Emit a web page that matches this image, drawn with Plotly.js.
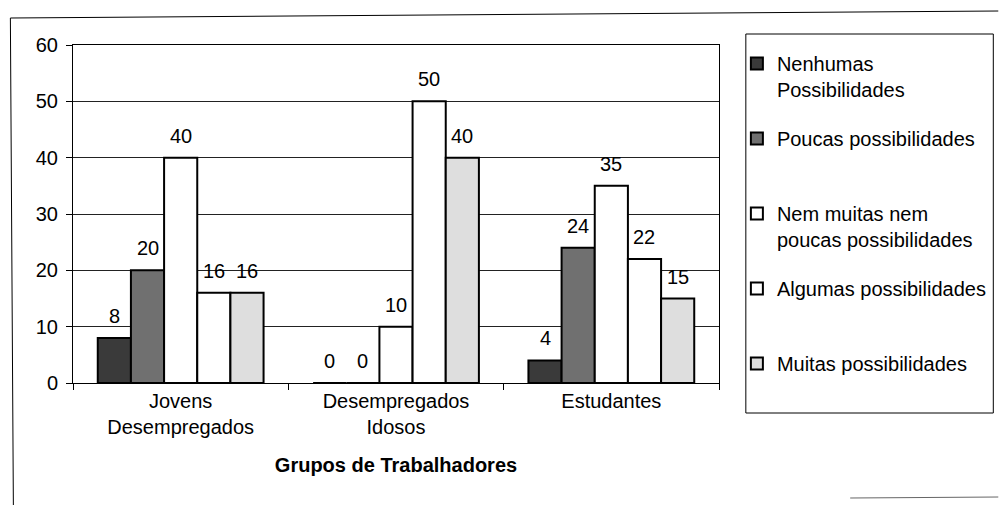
<!DOCTYPE html>
<html>
<head>
<meta charset="utf-8">
<script src="https://cdn.plot.ly/plotly-3.0.1.min.js"></script>
<style>
  html, body { margin: 0; padding: 0; background: #fff; }
  #chart { width: 1004px; height: 505px; }
</style>
</head>
<body>
<div id="chart"></div>
<script>
var GROUPS = ["Jovens<br>Desempregados", "Desempregados<br>Idosos", "Estudantes"];

// single line names get an empty second line so every legend entry is the same height
var SERIES_NAMES = [
  "Nenhumas<br>Possibilidades",
  "Poucas possibilidades<br> ",
  "Nem muitas nem<br>poucas possibilidades",
  "Algumas possibilidades<br> ",
  "Muitas possibilidades<br> "
];

var nenhumas = [8, 0, 4];
var poucas = [20, 0, 24];
var nemMuitas = [40, 10, 35];
var algumas = [16, 50, 22];
var muitas = [16, 40, 15];

var SERIES_VALUES = [nenhumas, poucas, nemMuitas, algumas, muitas];
var SERIES_COLORS = ["#3a3a3a", "#707070", "#ffffff", "#ffffff", "#dedede"];

// plot area in pixels
var W = 1004, H = 505;
var PL = 73, PR = 723, PT = 45, PB = 383;
var BARGAP = 0.23;

var px2x = function(px) { return (px - PL) / (PR - PL); };
var px2y = function(py) { return (PB - py) / (PB - PT); };

var FONT = "Liberation Sans, Arial, sans-serif";
var FS = 20;

var barTrace = function(name, values, color) {
  return {
    type: "bar",
    name: name,
    x: GROUPS,
    y: values,
    marker: { color: color, line: { color: "#000", width: 2 } },
    legendgroup: name
  };
};

var data = SERIES_NAMES.map(function(name, i) {
  return barTrace(name, SERIES_VALUES[i], SERIES_COLORS[i]);
});

// value labels sit a bit higher above the bars than plotly's outside text
var barWidth = (1 - BARGAP) / SERIES_VALUES.length;
var valueLabels = [];
SERIES_VALUES.forEach(function(values, s) {
  values.forEach(function(v, g) {
    valueLabels.push({
      xref: "x", yref: "y",
      x: g + (s - (SERIES_VALUES.length - 1) / 2) * barWidth,
      y: v,
      text: String(v),
      showarrow: false,
      yanchor: "bottom",
      yshift: 9,
      font: { family: FONT, size: FS, color: "#000" }
    });
  });
});

var frameLine = function(x0, y0, x1, y1, color) {
  return {
    type: "line", xref: "paper", yref: "paper",
    x0: px2x(x0), y0: px2y(y0), x1: px2x(x1), y1: px2y(y1),
    line: { color: color, width: 1 }
  };
};

var layout = {
  width: W,
  height: H,
  margin: { l: PL, r: W - PR, t: PT, b: H - PB, pad: 0 },
  paper_bgcolor: "#fff",
  plot_bgcolor: "#fff",
  font: { family: FONT, size: FS, color: "#000" },
  barmode: "group",
  bargap: BARGAP,
  bargroupgap: 0,
  showlegend: true,
  legend: {
    x: px2x(741),
    y: px2y(44),
    xanchor: "left",
    yanchor: "top",
    bgcolor: "rgba(0,0,0,0)",
    borderwidth: 0,
    font: { family: FONT, size: FS, color: "#000" },
    valign: "top",
    tracegroupgap: 20,
    itemwidth: 30,
    maxheight: 480
  },
  annotations: valueLabels,
  xaxis: {
    showline: true,
    linecolor: "#000",
    linewidth: 1,
    mirror: true,
    ticks: "outside",
    tickson: "boundaries",
    ticklen: 6,
    tickcolor: "#000",
    tickfont: { family: FONT, size: FS, color: "#000" },
    title: {
      text: "<b>Grupos de Trabalhadores</b>",
      font: { family: FONT, size: FS, color: "#000" },
      standoff: 20
    },
    fixedrange: true
  },
  yaxis: {
    range: [0, 60],
    dtick: 10,
    showline: true,
    linecolor: "#000",
    linewidth: 1,
    mirror: true,
    showgrid: true,
    gridcolor: "#222",
    gridwidth: 1,
    zeroline: false,
    ticks: "outside",
    ticklen: 6,
    tickcolor: "#000",
    ticklabelstandoff: 4,
    tickfont: { family: FONT, size: FS, color: "#000" },
    fixedrange: true
  },
  shapes: [
    // legend box
    {
      type: "rect", xref: "paper", yref: "paper",
      x0: px2x(750), x1: px2x(999), y0: px2y(413), y1: px2y(34),
      line: { color: "#000", width: 1 }, fillcolor: "rgba(0,0,0,0)"
    },
    // outer chart frame (scan is slightly tilted)
    frameLine(10, 18, 13, 505, "#000"),
    frameLine(10, 18, 1004, 11, "#000"),
    frameLine(855, 498, 1004, 497, "#666")
  ]
};

Plotly.newPlot("chart", data, layout, { displayModeBar: false, staticPlot: true });
</script>
</body>
</html>
